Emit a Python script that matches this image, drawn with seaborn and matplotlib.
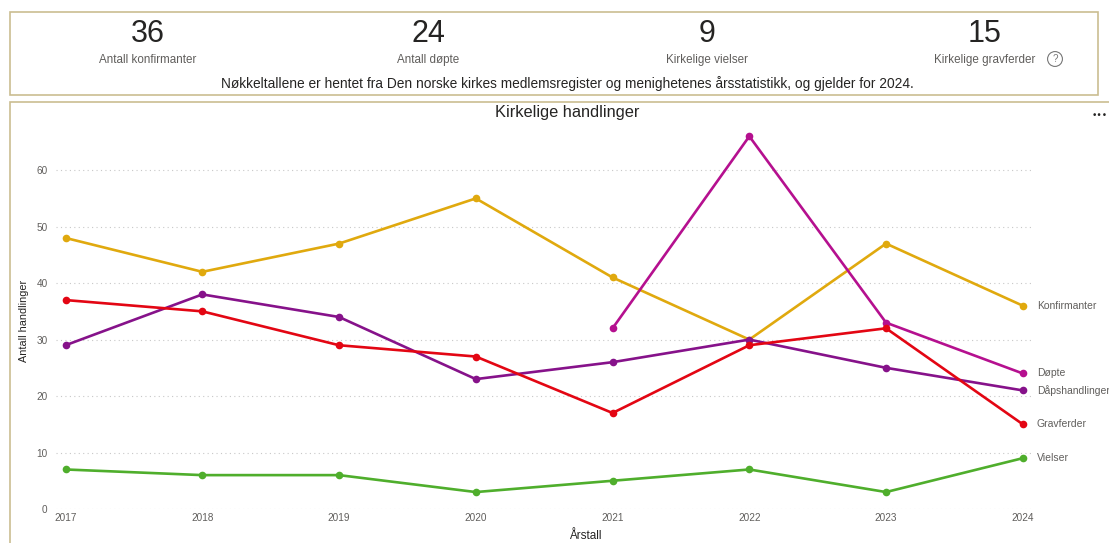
import matplotlib
matplotlib.use('Agg')
import matplotlib.pyplot as plt
from matplotlib.patches import Rectangle
import pandas as pd
import numpy as np
import seaborn as sns

years = [2017, 2018, 2019, 2020, 2021, 2022, 2023, 2024]
konfirmanter = [48, 42, 47, 55, 41, 30, 47, 36]
dopte = [np.nan, np.nan, np.nan, np.nan, 32, 66, 33, 24]
dapshandlinger = [29, 38, 34, 23, 26, 30, 25, 21]
gravferder = [37, 35, 29, 27, 17, 29, 32, 15]
vielser = [7, 6, 6, 3, 5, 7, 3, 9]

series_names = ['Konfirmanter', 'Døpte', 'Dåpshandlinger', 'Gravferder', 'Vielser']
series_colors = ['#E0A90E', '#B5108F', '#86128A', '#E30613', '#4FAE2C']

kpi_values = ['36', '24', '9', '15']
kpi_labels = ['Antall konfirmanter', 'Antall døpte', 'Kirkelige vielser', 'Kirkelige gravferder']
note = 'Nøkkeltallene er hentet fra Den norske kirkes medlemsregister og menighetenes årsstatistikk, og gjelder for 2024.'

W, H = 1109, 543
sns.set_theme(style='white')
plt.rcParams['font.family'] = ['Liberation Sans', 'DejaVu Sans']

fig = plt.figure(figsize=(W / 100, H / 100), dpi=100)


def fx(px):
    return px / W


def fy(py):
    return 1 - py / H


border = '#CBBD91'
# KPI card
fig.patches.append(Rectangle((fx(10), fy(95)), fx(1088), 83 / H, transform=fig.transFigure,
                             fill=False, edgecolor=border, lw=1.2))
kpi_x = [148, 428, 707, 985]
for x, v, lab in zip(kpi_x, kpi_values, kpi_labels):
    fig.text(fx(x), fy(34), v, ha='center', va='center', fontsize=22, color='#252423')
    fig.text(fx(x), fy(60), lab, ha='center', va='center', fontsize=8.4, color='#605E5C')
fig.text(fx(1055), fy(59), '?', ha='center', va='center', fontsize=7, color='#777777',
         bbox=dict(boxstyle='circle,pad=0.25', fc='none', ec='#777777', lw=0.8))
fig.text(fx(567), fy(84), note, ha='center', va='center', fontsize=9.9, color='#252423')

# chart card
fig.patches.append(Rectangle((fx(10), fy(560)), fx(1110), 458 / H, transform=fig.transFigure,
                             fill=False, edgecolor=border, lw=1.2))
fig.text(fx(567), fy(112), 'Kirkelige handlinger', ha='center', va='center', fontsize=11.8, color='#252423')
fig.text(fx(1100), fy(116), '•••', ha='center', va='center', fontsize=6.5, color='#252423',
         family='DejaVu Sans')

ax = fig.add_axes([fx(56), fy(509), fx(975), (509 - 125) / H])
df = pd.DataFrame({'År': years, 'Konfirmanter': konfirmanter, 'Døpte': dopte,
                   'Dåpshandlinger': dapshandlinger, 'Gravferder': gravferder, 'Vielser': vielser})
long = df.melt(id_vars='År', var_name='Serie', value_name='Antall')
sns.lineplot(data=long, x='År', y='Antall', hue='Serie', hue_order=series_names,
             palette=series_colors, marker='o', markersize=5.5, markeredgewidth=0,
             linewidth=1.9, ax=ax, legend=False)

for name in series_names:
    last = df[name].iloc[-1]
    ax.annotate(name, xy=(years[-1], last), xytext=(10, 0), textcoords='offset points',
                ha='left', va='center', fontsize=7.5, color='#605E5C', annotation_clip=False)

ax.set_xlim(2016.93, 2024.06)
ax.set_ylim(0, 68)
ax.set_xticks(years)
ax.set_yticks([0, 10, 20, 30, 40, 50, 60])
ax.tick_params(axis='both', labelsize=7.2, colors='#605E5C', length=0, pad=3)
ax.tick_params(axis='y', pad=6)
ax.grid(axis='y', linestyle=(0, (1, 3)), color='#C8C8C8', linewidth=0.8)
ax.grid(axis='x', visible=False)
for s in ax.spines.values():
    s.set_visible(False)
ax.set_facecolor('none')
ax.set_xlabel('Årstall', fontsize=8.5, color='#252423', labelpad=0)
ax.xaxis.set_label_coords((585 - 56) / 975, -0.055)
ax.set_ylabel('Antall handlinger', fontsize=7.8, color='#252423')
ax.yaxis.set_label_coords(-(56 - 29) / 975, 0.49)

fig.savefig('out.png', dpi=100)
